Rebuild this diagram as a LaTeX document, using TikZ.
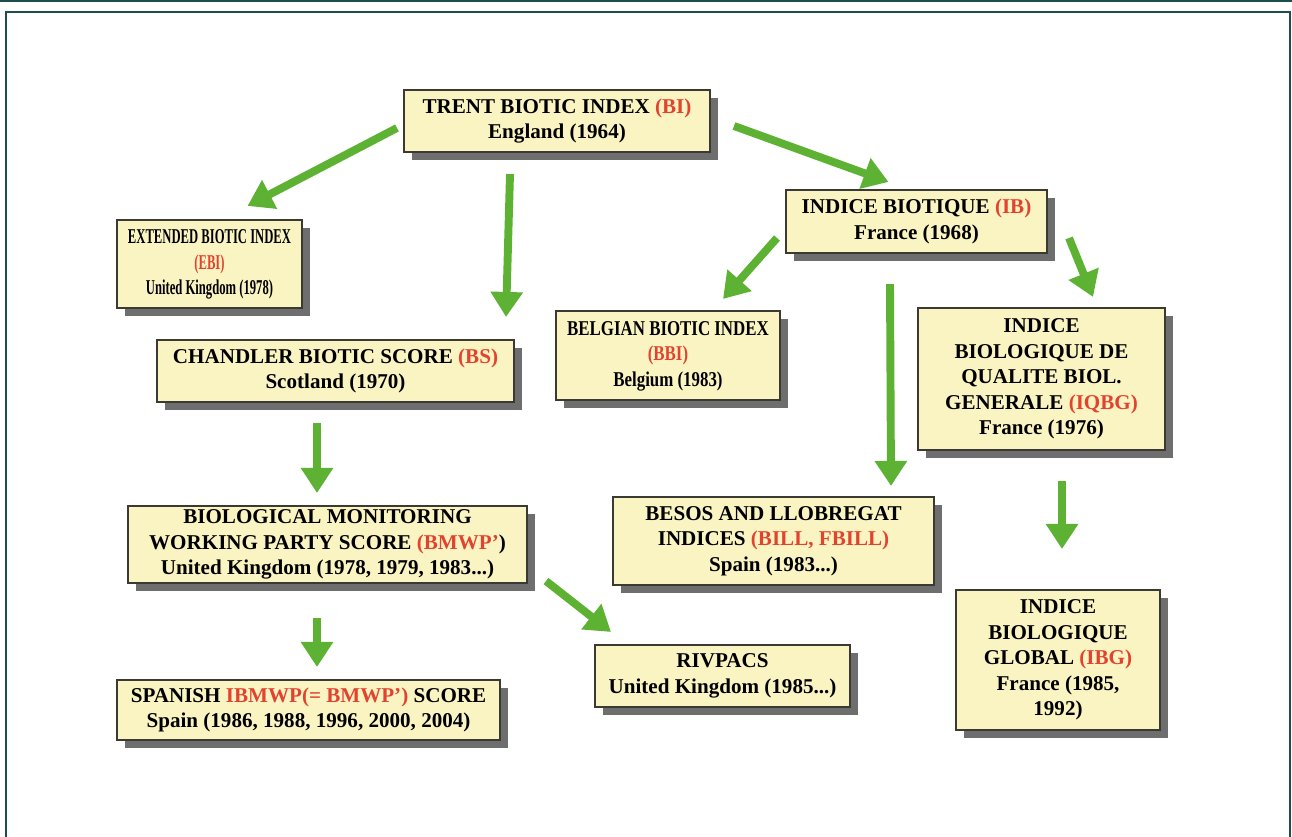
\documentclass[tikz,border=0pt]{standalone}
\usepackage{fontspec}
\usepackage{graphicx}
\setmainfont{Liberation Serif}
\usetikzlibrary{arrows.meta,shadows}

\definecolor{idxred}{HTML}{E2432F}
\definecolor{idxfill}{HTML}{FAF4C3}
\definecolor{idxline}{HTML}{3A3A32}
\definecolor{idxshadow}{HTML}{6E6E6E}
\definecolor{idxgreen}{HTML}{5DB233}
\definecolor{idxframe}{HTML}{1D4E4E}

\newcommand{\abbr}[1]{\textcolor{idxred}{#1}}
\newcommand{\squeeze}[2]{\scalebox{#1}[1]{\begin{tabular}{@{}c@{}}#2\end{tabular}}}

\begin{document}
\begin{tikzpicture}[x=0.02cm,y=-0.02cm]
            \tikzstyle{index}=[rectangle,draw=idxline,line width=1.2pt,fill=idxfill,align=center,inner sep=2pt,
                font=\bfseries\fontsize{12}{14.5}\selectfont,
                drop shadow={shadow xshift=0.16cm,shadow yshift=-0.16cm,fill=idxshadow,opacity=1}]
            \tikzstyle{flow}=[draw=idxgreen,line width=4.5pt,-{Triangle[length=0.5cm,width=0.62cm]}]
            \tikzstyle{frame}=[draw=idxframe,line width=1.4pt]
            \useasboundingbox (0,0) rectangle (1292,837);
                    % frame
                    \fill[idxframe] (0,0) rectangle (1292,2.5);
                    \draw[frame] (6,837) -- (6,12) -- (1290,12) -- (1290,837);

                    % left branch
                    \node[index,minimum width=6.12cm,minimum height=1.24cm] (trent) at (557,121){TRENT BIOTIC INDEX \abbr{(BI)}\\England (1964)};
                    \node[index,minimum width=3.70cm,minimum height=1.76cm] (ebi) at (209.5,264){\squeeze{0.6}{EXTENDED BIOTIC INDEX\\\abbr{(EBI)}\\United Kingdom (1978)}};
                    \node[index,minimum width=7.14cm,minimum height=1.24cm] (bs) at (335.5,371){CHANDLER BIOTIC SCORE \abbr{(BS)}\\Scotland (1970)};
                    \node[index,minimum width=7.98cm,minimum height=1.54cm] (bmwp) at (327.5,544.5){BIOLOGICAL MONITORING\\WORKING PARTY SCORE \abbr{(BMWP'}{)}\\United Kingdom (1978, 1979, 1983...)};
                    \node[index,minimum width=7.66cm,minimum height=1.20cm] (ibmwp) at (308.5,710){SPANISH \abbr{IBMWP(= BMWP')} SCORE\\Spain (1986, 1988, 1996, 2000, 2004)};
                    \node[index,minimum width=5.10cm,minimum height=1.24cm] (rivpacs) at (722.5,676){RIVPACS\\United Kingdom (1985...)};

                    % right branch
                    \node[index,minimum width=5.22cm,minimum height=1.26cm] (ib) at (916.5,221.5){INDICE BIOTIQUE \abbr{(IB)}\\France (1968)};
                    \node[index,minimum width=4.48cm,minimum height=1.78cm] (bbi) at (668,355.5){\squeeze{0.8}{BELGIAN BIOTIC INDEX\\\abbr{(BBI)}\\Belgium (1983)}};
                    \node[index,minimum width=4.94cm,minimum height=2.84cm] (iqbg) at (1041.5,379){INDICE\\BIOLOGIQUE DE\\QUALITE BIOL.\\GENERALE \abbr{(IQBG)}\\France (1976)};
                    \node[index,minimum width=6.42cm,minimum height=1.76cm] (bill) at (773.5,541){BESOS AND LLOBREGAT\\INDICES \abbr{(BILL, FBILL)}\\Spain (1983...)};
                    \node[index,minimum width=4.08cm,minimum height=2.80cm] (ibg) at (1058,660){INDICE\\BIOLOGIQUE\\GLOBAL \abbr{(IBG)}\\France (1985,\\1992)};

                \draw[flow] ([shift={(-6,7)}]trent.west) -- ([shift={(38,-13)}]ebi.north);
                \draw[flow] ([shift={(-47,21)}]trent.south) -- ([shift={(-9,-22)}]bs.north east);
                \draw[flow] ([shift={(23,5)}]trent.east) -- ([shift={(-28,-7)}]ib.north);
                \draw[flow] ([shift={(-8,16.5)}]ib.west) -- ([shift={(55,-11)}]bbi.north);
                \draw[flow] ([shift={(-26.5,30)}]ib.south) -- ([shift={(-44,-10)}]bill.north east);
                \draw[flow] ([shift={(21,16.5)}]ib.east) -- ([shift={(51.5,-10)}]iqbg.north);
                \draw[flow] ([shift={(-18.5,20)}]bs.south) -- ([shift={(-10.5,-12)}]bmwp.north);
                \draw[flow] ([shift={(-10.5,34)}]bmwp.south) -- ([shift={(8.5,-12)}]ibmwp.north);
                \draw[flow] ([shift={(18,-3)}]bmwp.south east) -- ([shift={(17,-12)}]rivpacs.north west);
                \draw[flow] ([shift={(20.5,30)}]iqbg.south) -- ([shift={(4,-40)}]ibg.north);
        \end{tikzpicture}
\end{document}
